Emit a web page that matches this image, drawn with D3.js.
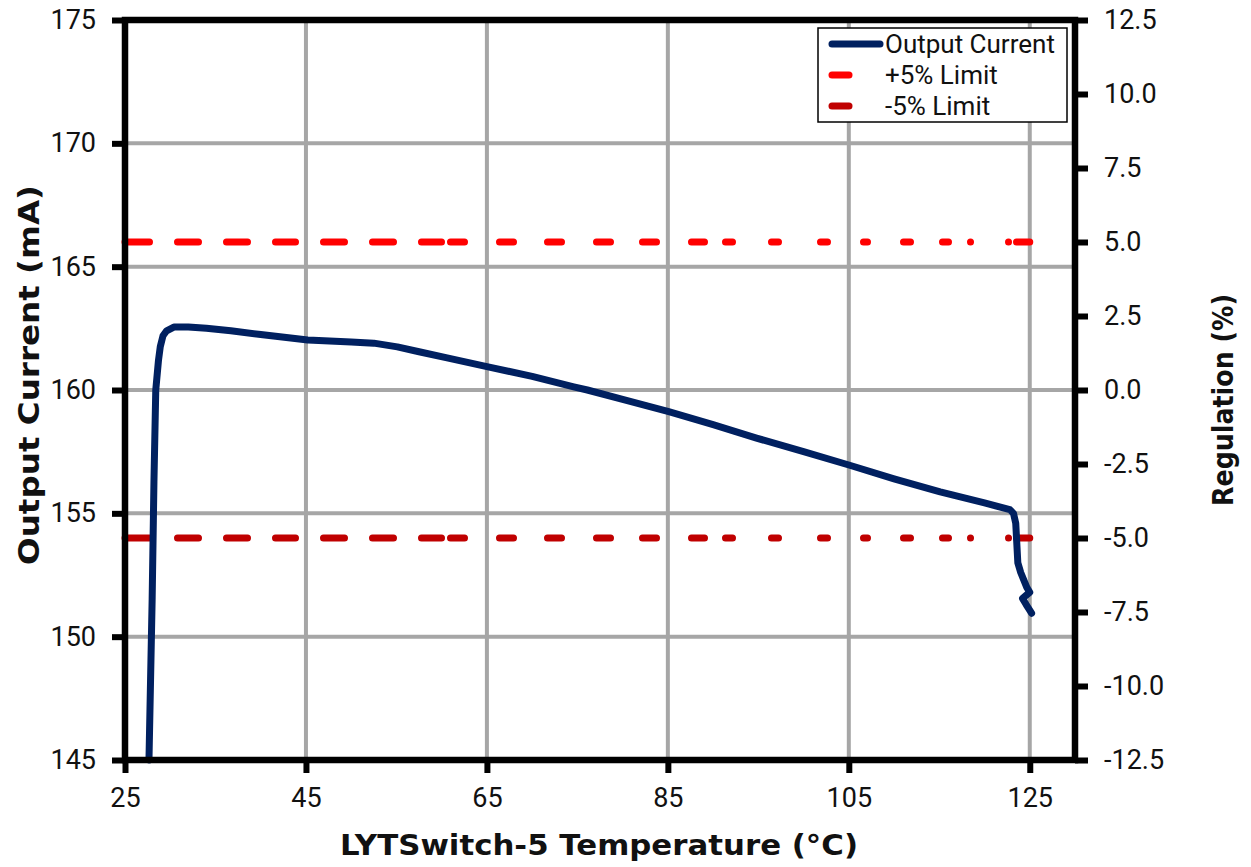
<!DOCTYPE html>
<html>
	<head>
		<title>Output Current vs Temperature</title>
		<style>
			body, html { margin: 0; padding: 0; background: #fff; }
		</style>
	</head>
	<body>

		<svg id="svg" width="1251" height="867"></svg>

		<script src="https://d3js.org/d3.v7.min.js"></script>
		<script>
			// Measured output current (mA) against device temperature (degC)
			const temps = [27.65, 28.0, 28.2, 28.4, 28.7, 28.9, 29.2, 29.6, 30.4, 32.0, 34.0, 36.7, 40.0,
				45.2, 50.0, 52.5, 55.1, 57.5, 60.6, 65.0, 70.0, 74.6, 76.1, 80.0, 85.1, 90.0, 94.8,
				100.0, 105.1, 110.0, 115.1, 120.0, 122.8, 123.2, 123.45, 123.68, 124.0, 124.67, 125.0,
				124.2, 124.6, 125.2]
			const currents = [145.0, 151.5, 156.3, 160.0, 161.2, 161.76, 162.2, 162.4, 162.55, 162.55, 162.5, 162.4, 162.25,
				162.03, 161.95, 161.9, 161.75, 161.55, 161.3, 160.95, 160.55, 160.13, 160.0, 159.62, 159.12, 158.6, 158.05,
				157.5, 156.95, 156.4, 155.87, 155.42, 155.15, 155.0, 154.6, 153.0, 152.6, 152.0, 151.8,
				151.55, 151.3, 150.95]

			// +/-5% limit lines
			const limitTemps = [25, 125]
			const plusLimit = [166, 166]
			const minusLimit = [154, 154]

			// axis ticks
			const xTicks = [25, 45, 65, 85, 105, 125]
			const yLeftTicks = [145, 150, 155, 160, 165, 170, 175]
			const yRightTicks = [-12.5, -10, -7.5, -5, -2.5, 0, 2.5, 5, 7.5, 10, 12.5]

			const legendNames = ['Output Current', '+5% Limit', '-5% Limit']
			const colors = ['#002060', '#ff0000', '#c00000']

			const mLeft = 125, mRight = 1075, mTop = 20, mBottom = 760
			// Excel restarts its dashes along the limit series, so the pattern is irregular
			const limitDash = '24.5,28,21,28,21,28,20,28,21,28,21,28,20,9,14,35,14,34,14,35,14,32,14,35,13,21,7,39,7,42,7,36,4,36,7,32,6,22,0.01,38,0.01,8,16,200'

			const x = d3.scaleLinear().domain([25, 130]).range([mLeft, mRight])
			const yL = d3.scaleLinear().domain([145, 175]).range([mBottom, mTop])
			const yR = d3.scaleLinear().domain([-12.5, 12.5]).range([mBottom, mTop])

			const svg = d3.select('#svg')
			const tickFont = 'Roboto, "Liberation Sans", sans-serif'

			// grid
			const grid = svg.append('g').attr('stroke', '#a6a6a6').attr('stroke-width', 4)
			grid.selectAll('line.h')
				.data(yLeftTicks.slice(1, -1))
				.enter().append('line')
				.attr('x1', mLeft).attr('x2', mRight)
				.attr('y1', d => yL(d)).attr('y2', d => yL(d))
			grid.selectAll('line.v')
				.data(xTicks.slice(1))
				.enter().append('line')
				.attr('x1', d => x(d)).attr('x2', d => x(d))
				.attr('y1', mTop).attr('y2', mBottom)

			// limit lines
			const line = d3.line().x(d => x(d[0])).y(d => yL(d[1]))
			;[plusLimit, minusLimit].forEach((vals, i) => {
				svg.append('path')
					.datum(limitTemps.map((t, j) => [t, vals[j]]))
					.attr('d', line)
					.attr('fill', 'none')
					.attr('stroke', colors[i + 1])
					.attr('stroke-width', 7)
					.attr('stroke-linecap', 'round')
					.attr('stroke-dasharray', limitDash)
			})

			// measured curve
			svg.append('path')
				.datum(temps.map((t, i) => [t, currents[i]]))
				.attr('d', line)
				.attr('fill', 'none')
				.attr('stroke', colors[0])
				.attr('stroke-width', 7)
				.attr('stroke-linejoin', 'round')
				.attr('stroke-linecap', 'round')

			// axes
			function styleAxis(g) {
				g.select('.domain').remove()
				g.selectAll('.tick line').attr('stroke', '#000').attr('stroke-width', 6)
				g.selectAll('.tick text')
					.attr('font-family', tickFont)
					.attr('font-size', 27)
					.attr('fill', '#111')
			}

			const hyphenFmt = f => d => d3.format(f)(d).replace('\u2212', '-')

			svg.append('g')
				.attr('transform', `translate(${mLeft},0)`)
				.call(d3.axisLeft(yL).tickValues(yLeftTicks).tickSize(13).tickPadding(16).tickFormat(hyphenFmt('d')))
				.call(styleAxis)

			svg.append('g')
				.attr('transform', `translate(${mRight},0)`)
				.call(d3.axisRight(yR).tickValues(yRightTicks).tickSize(13).tickPadding(16).tickFormat(hyphenFmt('.1f')))
				.call(styleAxis)

			svg.append('g')
				.attr('transform', `translate(0,${mBottom})`)
				.call(d3.axisBottom(x).tickValues(xTicks).tickSize(13).tickPadding(15).tickFormat(hyphenFmt('d')))
				.call(styleAxis)

			// plot frame
			svg.append('rect')
				.attr('x', mLeft).attr('y', mTop)
				.attr('width', mRight - mLeft).attr('height', mBottom - mTop)
				.attr('fill', 'none')
				.attr('stroke', '#000')
				.attr('stroke-width', 6.5)

			// axis titles
			const titleFont = '"DejaVu Sans", Verdana, sans-serif'
			function title(txt, tx, ty, rot, len) {
				svg.append('text')
					.attr('transform', `translate(${tx},${ty}) rotate(${rot})`)
					.attr('text-anchor', 'middle')
					.attr('font-family', titleFont).attr('font-weight', 'bold').attr('font-size', 29)
					.attr('textLength', len).attr('lengthAdjust', 'spacingAndGlyphs')
					.attr('fill', '#111')
					.text(txt)
			}
			title('LYTSwitch-5 Temperature (°C)', 599, 855, 0, 518)
			title('Output Current (mA)', 39, 375, -90, 380)
			title('Regulation (%)', 1233, 400, -90, 212)

			// legend
			const legend = svg.append('g').attr('transform', 'translate(818,28)')
			legend.append('rect')
				.attr('width', 249).attr('height', 94)
				.attr('fill', '#fff').attr('stroke', '#000').attr('stroke-width', 1.5)

			const items = legend.selectAll('g.item')
				.data(legendNames)
				.enter().append('g')
				.attr('transform', (d, i) => `translate(0,${16 + i * 31})`)

			items.append('line')
				.attr('x1', 14).attr('x2', (d, i) => i === 0 ? 62 : 31)
				.attr('stroke', (d, i) => colors[i])
				.attr('stroke-width', 7)
				.attr('stroke-linecap', 'round')

			items.append('text')
				.attr('x', 67)
				.attr('dy', '0.35em')
				.attr('font-family', tickFont)
				.attr('font-size', 26)
				.attr('fill', '#111')
				.text(d => d)
		</script>
	</body>
</html>
